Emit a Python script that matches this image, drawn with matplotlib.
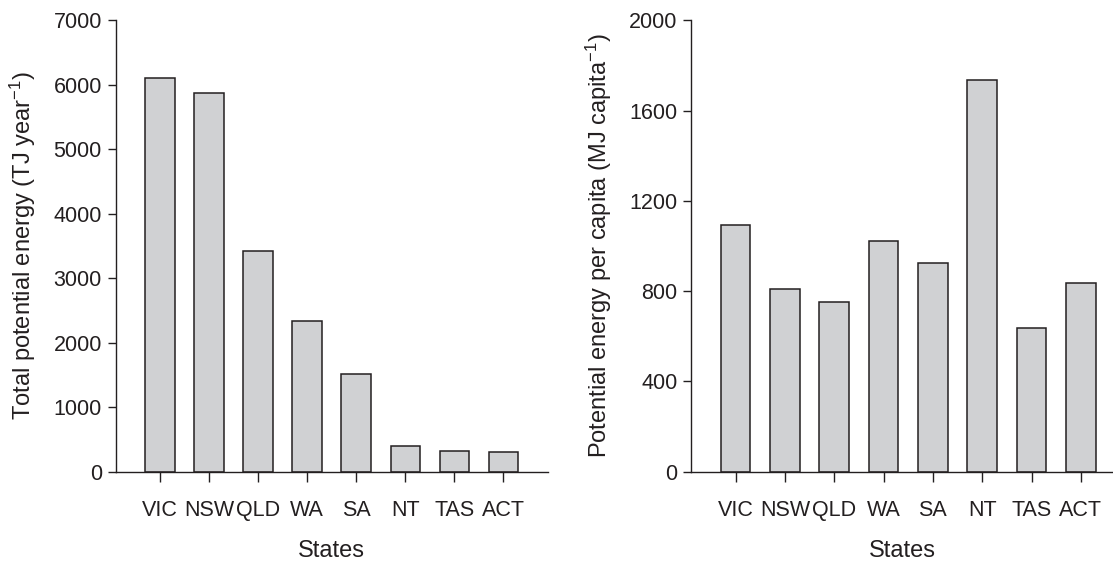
import numpy as np
import matplotlib
matplotlib.use("Agg")
import matplotlib.pyplot as plt

plt.rcParams['font.family'] = ['Liberation Sans', 'DejaVu Sans']
plt.rcParams['mathtext.fontset'] = 'custom'
plt.rcParams['mathtext.rm'] = 'Liberation Sans'
plt.rcParams['mathtext.it'] = 'Liberation Sans'
plt.rcParams['mathtext.default'] = 'regular'

# data
states = ['VIC', 'NSW', 'QLD', 'WA', 'SA', 'NT', 'TAS', 'ACT']
total_energy = [6100, 5870, 3420, 2340, 1510, 400, 330, 300]
per_capita = [1095, 810, 752, 1022, 926, 1735, 636, 838]

txt = '#231f20'
barcol = '#d0d1d3'

fig = plt.figure(figsize=(11.13, 5.63), dpi=100)
ax1 = fig.add_axes([0.104, 0.162, 0.388, 0.802])
ax2 = fig.add_axes([0.621, 0.162, 0.379, 0.802])

x = np.arange(len(states))

def style(ax, ymax, step, ylabel, xmax):
    ax.set_xlim(-0.9, xmax)
    ax.set_ylim(0, ymax)
    ax.set_yticks(np.arange(0, ymax + 1, step))
    ax.set_xticks(x)
    ax.set_xticklabels(states)
    for s in ['top', 'right']:
        ax.spines[s].set_visible(False)
    for s in ['left', 'bottom']:
        ax.spines[s].set_color(txt)
        ax.spines[s].set_linewidth(1.0)
    ax.tick_params(axis='y', direction='out', length=6, width=1, colors=txt,
                   labelsize=15.5, pad=4)
    ax.tick_params(axis='x', direction='out', length=7, width=1, colors=txt,
                   labelsize=15.5, pad=13)
    ax.set_xlabel('States', fontsize=17, color=txt, labelpad=14)
    ax.set_ylabel(ylabel, fontsize=17, color=txt, labelpad=11)

ax1.bar(x, total_energy, width=0.6, color=barcol, edgecolor=txt, linewidth=1.1)
style(ax1, 7000, 1000, 'Total potential energy (TJ year$^{-1}$)', 7.9)

ax2.bar(x, per_capita, width=0.6, color=barcol, edgecolor=txt, linewidth=1.1)
style(ax2, 2000, 400, 'Potential energy per capita (MJ capita$^{-1}$)', 7.65)

fig.savefig('out.png', dpi=100)
